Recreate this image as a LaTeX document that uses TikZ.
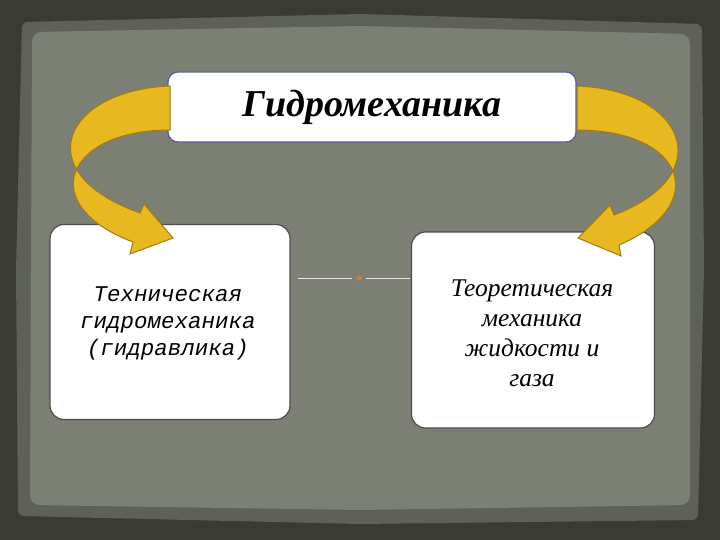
\documentclass[tikz,border=0pt]{standalone}
\usepackage{fontspec}
\setmainfont{Liberation Serif}
\newfontfamily\monoit{Liberation Mono}
\definecolor{frame}{HTML}{3A3B34}
\definecolor{mid}{HTML}{5E6157}
\definecolor{inner}{HTML}{7C8074}
\definecolor{gold}{HTML}{E8B820}
\definecolor{golddk}{HTML}{A07C10}
\begin{document}
\begin{tikzpicture}[x=1pt,y=-1pt,
  box/.style={draw=black!70,line width=1.2pt,fill=white,rounded corners=14pt,inner sep=0pt},
  arr/.style={fill=gold,draw=golddk,line width=1pt}]
\useasboundingbox (0,0) rectangle (720,540);
\fill[frame] (0,0) rectangle (720,540);
\fill[mid,rounded corners=6pt] (22,22) -- (360,14) -- (702,24) -- (704,270) -- (698,520) -- (360,524) -- (18,516) -- (16,270) -- cycle;
\fill[inner,rounded corners=10pt] (32,32) -- (360,26) -- (690,34) -- (690,505) -- (360,510) -- (30,505) -- cycle;
% boxes
\node[box,draw=blue!30!gray,minimum width=408pt,minimum height=70pt,rounded corners=10pt] (top) at (372,107) {};
\node[font=\bfseries\itshape\fontsize{38}{44}\selectfont] (tt) at (372,107) {Гидромеханика};
\node[box,minimum width=240pt,minimum height=195pt] (L) at (170,322) {};
\node[font=\monoit\itshape\fontsize{22.5}{27}\selectfont,align=center] (lt) at (168,323) {Техническая\\гидромеханика\\(гидравлика)};
\node[box,minimum width=243pt,minimum height=196pt] (R) at (533,330) {};
\node[font=\itshape\fontsize{25.5}{30}\selectfont,align=center] (rt) at (532,333) {Теоретическая\\механика\\жидкости и\\газа};
% center decoration
\coordinate (c1) at (298,278); \coordinate (c2) at (352,278);
\coordinate (c3) at (366,278); \coordinate (c4) at (410,278);
\draw[white!80!gray,line width=0.8pt] (c1) -- (c2) (c3) -- (c4);
\node[circle,fill=orange!50!gray,inner sep=2pt] (dot) at (359,278) {};
% left arrow
\path[arr] (170,86) .. controls (65,90) and (25,172) .. (140,213) -- (144,204) -- (173,238) -- (130,254) -- (133,242)
  .. controls (35,205) and (65,130) .. (170,130) -- cycle;
% right arrow
\path[arr] (577,86) .. controls (685,90) and (720,175) .. (614,215) -- (610,205) -- (578,238) -- (621,256) -- (619,245)
  .. controls (712,205) and (685,130) .. (577,130) -- cycle;
\end{tikzpicture}
\end{document}
